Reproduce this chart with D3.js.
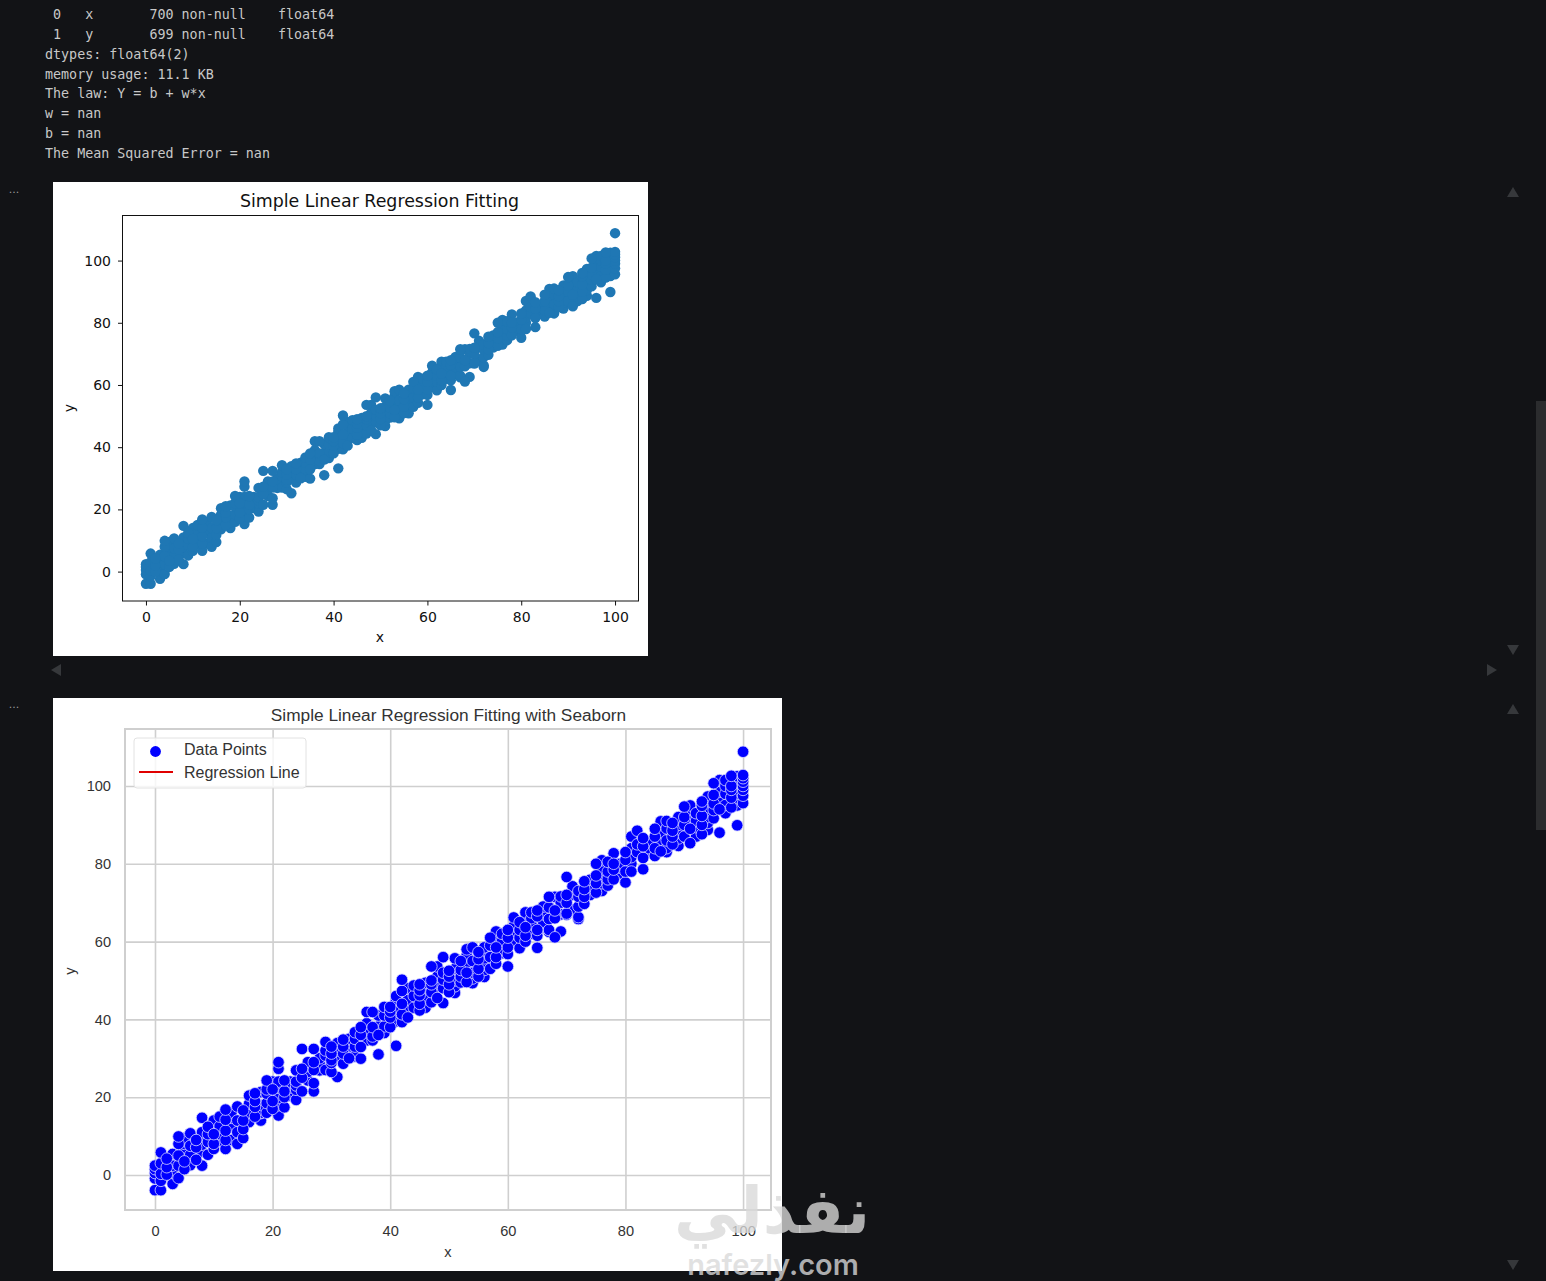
<!DOCTYPE html>
<html>

<head>
    <meta charset="utf-8">
    <style>
        html, body { margin: 0; background: #121316; }
        svg { display: block; }
        .console { font-family: "DejaVu Sans Mono", monospace; font-size: 13.35px; fill: #c8c8c8; white-space: pre; }
    </style>
</head>

<body>
    <svg id="page"></svg>
</body>
<script src="https://cdnjs.cloudflare.com/ajax/libs/d3/7.8.5/d3.min.js"></script>
<script>
    const consoleLines = [
        " 0   x       700 non-null    float64",
        " 1   y       699 non-null    float64",
        "dtypes: float64(2)",
        "memory usage: 11.1 KB",
        "The law: Y = b + w*x",
        "w = nan",
        "b = nan",
        "The Mean Squared Error = nan"
    ];
    const consoleCentres = [14, 34, 54, 74, 93, 113, 133, 153];

    const xTicks = [0, 20, 40, 60, 80, 100];
    const yTicks = [0, 20, 40, 60, 80, 100];

    // y readings for each whole x, the position in the list is x
    const yAtX = [
        [-3.9, -0.9, 0.5, 1.5, 2.4], [-3.9, 0.3, 5.8, 3, -1.5], [0.1, 2, 4.2], [-2.3, 2.4, 5.4, 0.5],
        [-0.8, 2.4, 8, 9.9, 5], [1.5, 5.8, 8, 3.5, 9.5], [5.2, 10.7, 2.5, 7.5], [3.9, 7.1, 9],
        [2.4, 14.7, 9.9, 7.8, 6, 11], [5.2, 12.4, 8.5, 10.5], [6.7, 14, 10.5, 8], [8.8, 12.5, 15, 10.5],
        [6.7, 11.4, 16.8, 14.2, 9], [14.7, 9, 12.5, 16], [8, 17.6, 11, 14], [11.8, 16.6, 9.5, 14],
        [20.4, 18.3, 13.6, 16], [15, 19, 17.5, 21], [14, 15.9, 21.3, 18, 16], [24.3, 20.9, 18.5, 22, 16],
        [17, 19, 22, 24], [15.3, 17.9, 19.8, 22.4, 27.3, 29, 24], [24.3, 17.4, 20, 21.5], [20.4, 24, 22.5],
        [19.3, 21.9, 26.9, 24, 23], [21.5, 27.3, 25, 32.4], [29, 24.3, 26.5, 28], [21.5, 32.4, 23.6, 27, 29],
        [26.9, 30, 28.5], [30.7, 34.2, 27, 32], [28.8, 31.2, 26.5, 33, 29.5], [25.2, 33.9, 30, 32],
        [34.8, 28.6, 31.2, 33], [33.3, 30, 35, 31.5], [36.7, 30.5, 33, 35], [38, 32.9, 29.9, 36],
        [36.7, 34.6, 41.9, 39], [41.9, 35.6, 34.6, 38], [31, 38.2, 41, 36], [41, 38.2, 36.5, 43.2],
        [43.2, 40.5, 38, 42], [33.2, 44.9, 42, 39.5, 46], [50.2, 47.3, 41.3, 39.3, 44], [45, 48, 42.5, 40.5],
        [48.7, 46, 43], [46.2, 42.3, 49, 44, 47.5], [49.4, 45.5, 43, 48], [53.6, 44.4, 47, 50, 49],
        [53.6, 47.9, 45.5, 51, 49.5], [56, 50.2, 44.2, 48, 52], [47, 49, 52.5, 51], [55.7, 46.8, 50, 53, 48.5],
        [52.7, 49.5, 55, 51], [56.4, 49.6, 52, 54.5, 58], [58.5, 49.3, 52, 55, 50.5], [57.3, 53, 51, 55.5],
        [55.7, 52.7, 50.9, 58.5, 54], [59, 56, 53, 61], [62.6, 58.5, 54.3, 56, 60], [60, 57, 62, 58],
        [53.6, 58.5, 56.8, 61, 63], [60, 66.2, 62, 64], [65, 58.3, 61, 63], [63.7, 66, 61.5, 60, 67.5],
        [67.5, 62, 64.5, 66], [58.4, 66.5, 63, 61.5, 68], [63.5, 67, 65, 69], [68.8, 65.8, 71.5, 63, 62.5],
        [61.1, 66, 71.5, 68], [62.6, 71.6, 67, 70], [66.9, 76.6, 67.2, 72, 70], [68, 74.2, 68.2, 72],
        [65.8, 66.3, 71.5, 73, 69], [73.5, 69.7, 75.5, 71.5], [75.9, 72, 74], [80, 72.6, 75, 77],
        [80.9, 77.4, 73, 75, 78.5], [74.4, 78, 76, 80.5], [82.7, 78.5, 76, 80], [77.5, 80, 79],
        [75.2, 78, 81, 83], [87, 84, 81.7, 78, 80], [88.5, 85, 83], [86.6, 78.6, 81.5, 84.5],
        [82.9, 85.5, 84], [84, 87, 82, 89], [90.9, 83.2, 86.2, 88, 85], [89.1, 86, 84, 91, 83],
        [90.5, 87, 85, 88.5], [92, 84.6, 88, 90, 86.5], [94.7, 87, 90, 92], [93.8, 85.3, 89, 91, 95],
        [89.4, 93, 87, 91], [94.9, 92.3, 87.6, 90, 96], [97.3, 88.7, 92, 94.5, 90.5], [100.7, 97.7, 93.8, 91.7, 95.5],
        [88, 101.5, 96, 94, 98.5], [95.1, 101.5, 98, 93, 100], [102.6, 97, 94.5, 100, 99], [89.9, 100.3, 95, 97, 102.5, 98],
        [108.8, 102.8, 101.1, 95.6, 99, 97.5, 100, 102]
    ];
    // paint order only: hop along the x values so later dots do not stack up like scales
    const points = yAtX.flatMap((ys, x) => ys.map(y => ({ x, y })))
        .sort((a, b) => (a.x * 37 + a.y * 3) % 101 - (b.x * 37 + b.y * 3) % 101);

    const width = 1546,
        height = 1281,
        background = "#121316",
        faint = "#36383b";

    const page = d3.select("#page").attr("width", width).attr("height", height);
    page.append("rect").attr("width", width).attr("height", height).attr("fill", background);

    page.append("g").selectAll("text")
        .data(consoleLines)
        .enter().append("text")
        .attr("class", "console")
        .attr("xml:space", "preserve")
        .attr("x", 45)
        .attr("y", (d, i) => consoleCentres[i] + 5)
        .text(d => d);

    // cell "..." markers
    page.selectAll(".dots")
        .data([193, 708])
        .enter().append("text")
        .attr("x", 14).attr("y", d => d)
        .attr("text-anchor", "middle")
        .attr("font-family", "DejaVu Sans")
        .attr("font-size", 11)
        .attr("fill", "#9a9a9a")
        .text("...");

    // scrollbar and its arrows
    page.append("rect").attr("x", 1536).attr("y", 401).attr("width", 10).attr("height", 429).attr("fill", "#2b2c2e");
    const arrows = [
        [1513, 192, 0], [1513, 650, 180], [1513, 709, 0], [1513, 1265, 180], [56, 670, -90], [1492, 670, 90]
    ];
    page.selectAll(".arrow")
        .data(arrows)
        .enter().append("path")
        .attr("d", "M0,-5L6,5L-6,5Z")
        .attr("transform", d => `translate(${d[0]},${d[1]}) rotate(${d[2]})`)
        .attr("fill", faint);

    // first figure, plain matplotlib
    function drawPlain() {
        const font = "DejaVu Sans", ink = "#111";
        page.append("rect").attr("x", 53).attr("y", 182).attr("width", 595).attr("height", 474).attr("fill", "#fff");

        const x = d3.scaleLinear().domain([-5, 105]).range([122.5, 638.5]);
        const y = d3.scaleLinear().domain([-9.45, 114.65]).range([601, 215]);

        page.append("g").selectAll("circle")
            .data(points)
            .enter().append("circle")
            .attr("cx", d => x(d.x))
            .attr("cy", d => y(d.y))
            .attr("r", 5.2)
            .attr("fill", "#1f77b4");

        const xAxis = page.append("g").attr("transform", "translate(0,601)")
            .call(d3.axisBottom(x).tickValues(xTicks).tickSize(4.5).tickPadding(7).tickSizeOuter(0));
        const yAxis = page.append("g").attr("transform", "translate(122.5,0)")
            .call(d3.axisLeft(y).tickValues(yTicks).tickSize(4.5).tickPadding(7).tickSizeOuter(0));
        [xAxis, yAxis].forEach(a => {
            a.selectAll("text").attr("font-family", font).attr("font-size", 14).attr("fill", ink);
            a.selectAll("line").attr("stroke", ink);
            a.select(".domain").remove();
        });
        page.append("rect").attr("x", 122.5).attr("y", 215.5).attr("width", 516).attr("height", 385.5)
            .attr("fill", "none").attr("stroke", ink).attr("stroke-width", 1);

        page.append("text").attr("x", 379.5).attr("y", 207).attr("text-anchor", "middle")
            .attr("font-family", font).attr("font-size", 17.4).attr("fill", ink)
            .text("Simple Linear Regression Fitting");
        page.append("text").attr("x", 380).attr("y", 642).attr("text-anchor", "middle")
            .attr("font-family", font).attr("font-size", 14).attr("fill", ink).text("x");
        page.append("text").attr("transform", "translate(74,408) rotate(-90)").attr("text-anchor", "middle")
            .attr("font-family", font).attr("font-size", 14).attr("fill", ink).text("y");
    }

    // second figure, seaborn whitegrid look
    function drawSeaborn() {
        const font = "Liberation Sans", ink = "#333", grid = "#cfcfcf";
        page.append("rect").attr("x", 53).attr("y", 698).attr("width", 729).attr("height", 573).attr("fill", "#fff");

        const x = d3.scaleLinear().domain([-5.1, 104.75]).range([125, 771]);
        const y = d3.scaleLinear().domain([-9, 114.65]).range([1210, 729]);

        const xAxis = page.append("g").attr("transform", "translate(0,1210)")
            .call(d3.axisBottom(x).tickValues(xTicks).tickSize(-481).tickPadding(16).tickSizeOuter(0));
        const yAxis = page.append("g").attr("transform", "translate(125,0)")
            .call(d3.axisLeft(y).tickValues(yTicks).tickSize(-646).tickPadding(14).tickSizeOuter(0));
        [xAxis, yAxis].forEach(a => {
            a.selectAll("text").attr("font-family", font).attr("font-size", 14.6).attr("fill", ink);
            a.selectAll("line").attr("stroke", grid).attr("stroke-width", 1.6);
            a.select(".domain").remove();
        });
        page.append("rect").attr("x", 125).attr("y", 729).attr("width", 646).attr("height", 481)
            .attr("fill", "none").attr("stroke", grid).attr("stroke-width", 2);

        page.append("g").selectAll("circle")
            .data(points)
            .enter().append("circle")
            .attr("cx", d => x(d.x))
            .attr("cy", d => y(d.y))
            .attr("r", 5.8)
            .attr("fill", "#0000ff")
            .attr("stroke", "#d8d8ff")
            .attr("stroke-width", 0.8);

        // legend, the regression line itself has nan values and draws nothing
        page.append("rect").attr("x", 134).attr("y", 738).attr("width", 172).attr("height", 50).attr("rx", 3)
            .attr("fill", "#fff").attr("fill-opacity", 0.8).attr("stroke", "#e2e2e2");
        page.append("circle").attr("cx", 155.5).attr("cy", 751.5).attr("r", 5.4).attr("fill", "#0000ff");
        page.append("line").attr("x1", 139).attr("x2", 173).attr("y1", 772).attr("y2", 772)
            .attr("stroke", "#e00000").attr("stroke-width", 1.8);
        page.append("text").attr("x", 184).attr("y", 755).attr("font-family", font).attr("font-size", 16).attr("fill", ink).text("Data Points");
        page.append("text").attr("x", 184).attr("y", 778).attr("font-family", font).attr("font-size", 16).attr("fill", ink).text("Regression Line");

        page.append("text").attr("x", 448.5).attr("y", 721).attr("text-anchor", "middle")
            .attr("font-family", font).attr("font-size", 17.3).attr("fill", ink)
            .text("Simple Linear Regression Fitting with Seaborn");
        page.append("text").attr("x", 448).attr("y", 1257).attr("text-anchor", "middle")
            .attr("font-family", font).attr("font-size", 14.6).attr("fill", ink).text("x");
        page.append("text").attr("transform", "translate(75,971) rotate(-90)").attr("text-anchor", "middle")
            .attr("font-family", font).attr("font-size", 14.6).attr("fill", ink).text("y");
    }

    function drawWatermark() {
        const wm = page.append("g").attr("fill", "#d9d9d9").attr("fill-opacity", 0.78);
        wm.append("text").attr("x", 772).attr("y", 1233).attr("text-anchor", "middle")
            .attr("font-family", "DejaVu Sans").attr("font-weight", "bold").attr("font-size", 64)
            .text("نفذلي");
        wm.append("text").attr("x", 773).attr("y", 1275).attr("text-anchor", "middle")
            .attr("font-family", "Inter").attr("font-weight", 600).attr("font-size", 29)
            .text("nafezly.com");
    }

    drawPlain();
    drawSeaborn();
    drawWatermark();
</script>

</html>
